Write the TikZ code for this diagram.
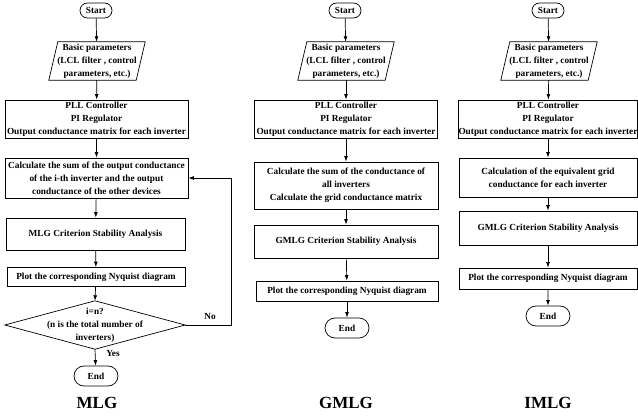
\documentclass[tikz,border=0pt]{standalone}
\usepackage{fontspec}
\setmainfont{Liberation Serif}
\usetikzlibrary{arrows.meta,shapes.misc}
\begin{document}
\begin{tikzpicture}[x=1pt,y=-1pt,
  font=\fontsize{9.3}{13}\selectfont\bfseries,
  lw/.style={line width=0.7pt},
  box/.style={draw,lw,align=center,inner sep=1.5pt},
  term/.style={draw,lw,rounded rectangle,minimum height=15pt,minimum width=34pt,inner sep=1pt},
  para/.style={align=center,minimum width=87pt,minimum height=38pt,inner sep=0pt},
  dia/.style={align=center,minimum width=180pt,minimum height=48pt,inner sep=0pt},
  arr/.style={lw,-{Latex[length=5.5pt,width=3.8pt]}},
  ttl/.style={font=\fontsize{17}{17}\selectfont\bfseries}]
\useasboundingbox (0,0) rectangle (638,417);
% ---------- column 1: MLG ----------
\node[term] (s1) at (96,10.5) {Start};
\node[para] (p1) at (97,61) {Basic parameters\\(LCL filter , control\\parameters, etc.)};
\node[box,minimum width=183pt,minimum height=38pt] (a1) at (96.5,119) {PLL Controller\\PI Regulator\\Output conductance matrix for each inverter};
\node[box,minimum width=183pt,minimum height=40pt] (c1) at (96.5,178) {Calculate the sum of the output conductance\\of the i-th inverter and the output\\conductance of the other devices};
\node[box,minimum width=179pt,minimum height=32pt] (m1) at (95.5,234) {MLG Criterion Stability Analysis};
\node[box,minimum width=178pt,minimum height=19pt] (q1) at (96,277) {Plot the corresponding Nyquist diagram};
\node[dia] (d1) at (95,325) {i=n?\\(n is the total number of\\inverters)};
\node[term,minimum width=46pt,minimum height=20pt] (e1) at (96,376) {End};
\node[ttl] (t1) at (97,403) {MLG};
\node (no1) at (210,317) {No};
\node (yes1) at (113,353) {Yes};
\coordinate (k1) at (231,325);
% ---------- column 2: GMLG ----------
\node[term] (s2) at (345,10.5) {Start};
\node[para] (p2) at (346,61) {Basic parameters\\(LCL filter , control\\parameters, etc.)};
\node[box,minimum width=183pt,minimum height=38pt] (a2) at (346,119) {PLL Controller\\PI Regulator\\Output conductance matrix for each inverter};
\node[box,minimum width=184pt,minimum height=47pt] (c2) at (346,185.5) {Calculate the sum of the conductance of\\all inverters\\Calculate the grid conductance matrix};
\node[box,minimum width=184pt,minimum height=33pt] (m2) at (346,241.5) {GMLG Criterion Stability Analysis};
\node[box,minimum width=182pt,minimum height=20pt] (q2) at (347,291) {Plot the corresponding Nyquist diagram};
\node[term,minimum width=46pt,minimum height=20pt] (e2) at (347,328) {End};
\node[ttl] (t2) at (346,403) {GMLG};
% ---------- column 3: IMLG ----------
\node[term] (s3) at (548,10.5) {Start};
\node[para] (p3) at (549,61) {Basic parameters\\(LCL filter , control\\parameters, etc.)};
\node[box,inner xsep=0pt,minimum width=178pt,minimum height=38pt] (a3) at (548,119) {PLL Controller\\PI Regulator\\Output conductance matrix for each inverter};
\node[box,minimum width=178pt,minimum height=39pt] (c3) at (548,177.5) {Calculation of the equivalent grid\\conductance for each inverter};
\node[box,minimum width=178pt,minimum height=34pt] (m3) at (548,228) {GMLG Criterion Stability Analysis};
\node[box,minimum width=178pt,minimum height=21pt] (q3) at (548,278.5) {Plot the corresponding Nyquist diagram};
\node[term,minimum width=46pt,minimum height=20pt] (e3) at (548,316) {End};
\node[ttl] (t3) at (548,403) {IMLG};
% ---------- shapes drawn around text nodes ----------
\foreach \p in {p1,p2,p3}{
  \draw[lw] ([xshift=4.5pt]\p.north west) -- ([xshift=4.5pt]\p.north east)
     -- ([xshift=-4.5pt]\p.south east) -- ([xshift=-4.5pt]\p.south west) -- cycle;
}
\draw[lw] (d1.north) -- (d1.east) -- (d1.south) -- (d1.west) -- cycle;
% ---------- connectors ----------
\draw[arr] (s1) -- (p1);
\draw[arr] (p1) -- (a1);
\draw[arr] (a1) -- (c1);
\draw[arr] (c1) -- (m1);
\draw[arr] (m1) -- (q1);
\draw[arr] (q1) -- (d1.north);
\draw[arr] (d1.south) -- (e1);
\draw[arr] (d1.east) -- (k1) |- (c1.east);
\draw[arr] (s2) -- (p2);
\draw[arr] (p2) -- (a2);
\draw[arr] (a2) -- (c2);
\draw[arr] (c2) -- (m2);
\draw[arr] (m2) -- (q2);
\draw[arr] (q2) -- (e2);
\draw[arr] (s3) -- (p3);
\draw[arr] (p3) -- (a3);
\draw[arr] (a3) -- (c3);
\draw[arr] (c3) -- (m3);
\draw[arr] (m3) -- (q3);
\draw[arr] (q3) -- (e3);
\end{tikzpicture}
\end{document}
